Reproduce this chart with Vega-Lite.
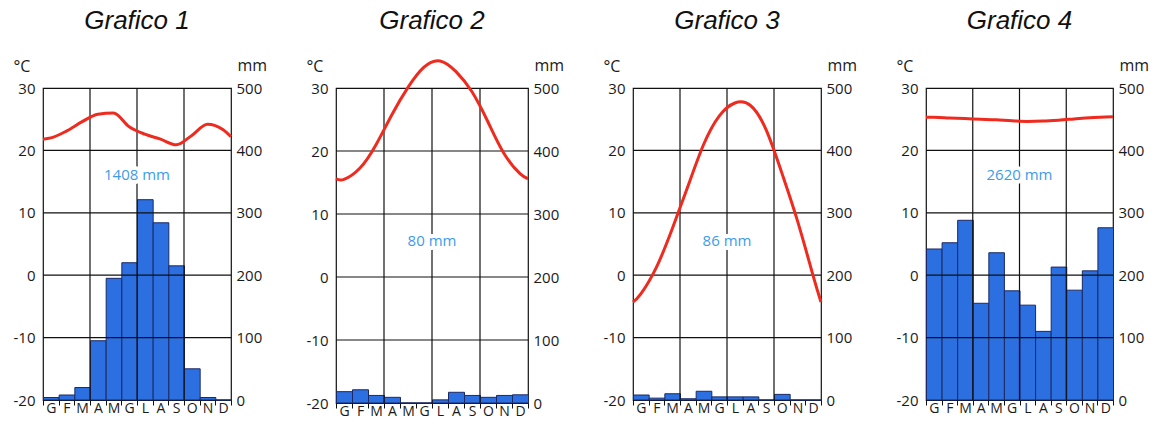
{
  "$schema": "https://vega.github.io/schema/vega-lite/v6.json",
  "background": "white",
  "padding": {"left": 12, "top": 7, "right": 5, "bottom": 0},
  "bounds": "flush",
  "spacing": 105,
  "config": {
    "view": {"stroke": "#111", "strokeWidth": 1.2},
    "axis": {"labelFont": "Open Sans", "labelFontSize": 15, "labelColor": "#1a1a1a", "titleFont": "Open Sans", "titleFontSize": 16, "titleFontWeight": "normal", "titleColor": "#1a1a1a", "labelFlush": false, "labelOverlap": false},
    "title": {"font": "Liberation Sans", "fontSize": 26, "fontStyle": "italic", "fontWeight": "normal", "color": "#111", "frame": "group", "anchor": "middle", "offset": 23, "baseline": "alphabetic"}
  },
  "datasets": {
    "prec": [
      {"grafico": 1, "mese": 0, "mm": 4}, {"grafico": 1, "mese": 1, "mm": 8}, {"grafico": 1, "mese": 2, "mm": 20}, {"grafico": 1, "mese": 3, "mm": 95}, {"grafico": 1, "mese": 4, "mm": 195}, {"grafico": 1, "mese": 5, "mm": 220}, {"grafico": 1, "mese": 6, "mm": 321}, {"grafico": 1, "mese": 7, "mm": 284}, {"grafico": 1, "mese": 8, "mm": 215}, {"grafico": 1, "mese": 9, "mm": 50}, {"grafico": 1, "mese": 10, "mm": 4}, {"grafico": 1, "mese": 11, "mm": 0},
      {"grafico": 2, "mese": 0, "mm": 18}, {"grafico": 2, "mese": 1, "mm": 21}, {"grafico": 2, "mese": 2, "mm": 12}, {"grafico": 2, "mese": 3, "mm": 9}, {"grafico": 2, "mese": 4, "mm": 0}, {"grafico": 2, "mese": 5, "mm": 0}, {"grafico": 2, "mese": 6, "mm": 5}, {"grafico": 2, "mese": 7, "mm": 17}, {"grafico": 2, "mese": 8, "mm": 12}, {"grafico": 2, "mese": 9, "mm": 9}, {"grafico": 2, "mese": 10, "mm": 12}, {"grafico": 2, "mese": 11, "mm": 13},
      {"grafico": 3, "mese": 0, "mm": 8}, {"grafico": 3, "mese": 1, "mm": 3}, {"grafico": 3, "mese": 2, "mm": 10}, {"grafico": 3, "mese": 3, "mm": 2}, {"grafico": 3, "mese": 4, "mm": 14}, {"grafico": 3, "mese": 5, "mm": 5}, {"grafico": 3, "mese": 6, "mm": 5}, {"grafico": 3, "mese": 7, "mm": 5}, {"grafico": 3, "mese": 8, "mm": 0}, {"grafico": 3, "mese": 9, "mm": 9}, {"grafico": 3, "mese": 10, "mm": 0}, {"grafico": 3, "mese": 11, "mm": 0},
      {"grafico": 4, "mese": 0, "mm": 242}, {"grafico": 4, "mese": 1, "mm": 252}, {"grafico": 4, "mese": 2, "mm": 288}, {"grafico": 4, "mese": 3, "mm": 155}, {"grafico": 4, "mese": 4, "mm": 236}, {"grafico": 4, "mese": 5, "mm": 175}, {"grafico": 4, "mese": 6, "mm": 152}, {"grafico": 4, "mese": 7, "mm": 110}, {"grafico": 4, "mese": 8, "mm": 213}, {"grafico": 4, "mese": 9, "mm": 176}, {"grafico": 4, "mese": 10, "mm": 207}, {"grafico": 4, "mese": 11, "mm": 276}
    ],
    "temp": [
      {"grafico": 1, "pos": 0, "c": 21.8}, {"grafico": 1, "pos": 0.5, "c": 22.0}, {"grafico": 1, "pos": 1.5, "c": 23.1}, {"grafico": 1, "pos": 2.5, "c": 24.6}, {"grafico": 1, "pos": 3.5, "c": 25.8}, {"grafico": 1, "pos": 4.5, "c": 26.0}, {"grafico": 1, "pos": 5.5, "c": 23.8}, {"grafico": 1, "pos": 6.5, "c": 22.6}, {"grafico": 1, "pos": 7.5, "c": 21.8}, {"grafico": 1, "pos": 8.5, "c": 20.9}, {"grafico": 1, "pos": 9.5, "c": 22.4}, {"grafico": 1, "pos": 10.5, "c": 24.2}, {"grafico": 1, "pos": 11.5, "c": 23.3}, {"grafico": 1, "pos": 12, "c": 22.2},
      {"grafico": 2, "pos": 0, "c": 15.6}, {"grafico": 2, "pos": 0.5, "c": 15.5}, {"grafico": 2, "pos": 1.5, "c": 17.3}, {"grafico": 2, "pos": 2.5, "c": 21.0}, {"grafico": 2, "pos": 3.5, "c": 25.8}, {"grafico": 2, "pos": 4.5, "c": 30.1}, {"grafico": 2, "pos": 5.5, "c": 33.3}, {"grafico": 2, "pos": 6.5, "c": 34.3}, {"grafico": 2, "pos": 7.5, "c": 32.6}, {"grafico": 2, "pos": 8.5, "c": 29.4}, {"grafico": 2, "pos": 9.5, "c": 24.6}, {"grafico": 2, "pos": 10.5, "c": 19.6}, {"grafico": 2, "pos": 11.5, "c": 16.4}, {"grafico": 2, "pos": 12, "c": 15.6},
      {"grafico": 3, "pos": 0, "c": -4.3}, {"grafico": 3, "pos": 0.5, "c": -3.0}, {"grafico": 3, "pos": 1.5, "c": 1.3}, {"grafico": 3, "pos": 2.5, "c": 7.4}, {"grafico": 3, "pos": 3.5, "c": 14.2}, {"grafico": 3, "pos": 4.5, "c": 20.9}, {"grafico": 3, "pos": 5.5, "c": 25.5}, {"grafico": 3, "pos": 6.5, "c": 27.6}, {"grafico": 3, "pos": 7.5, "c": 27.2}, {"grafico": 3, "pos": 8.5, "c": 23.3}, {"grafico": 3, "pos": 9.5, "c": 16.4}, {"grafico": 3, "pos": 10.5, "c": 8.7}, {"grafico": 3, "pos": 11.5, "c": -0.1}, {"grafico": 3, "pos": 12, "c": -4.3},
      {"grafico": 4, "pos": 0, "c": 25.3}, {"grafico": 4, "pos": 0.5, "c": 25.3}, {"grafico": 4, "pos": 1.5, "c": 25.2}, {"grafico": 4, "pos": 2.5, "c": 25.1}, {"grafico": 4, "pos": 3.5, "c": 25.0}, {"grafico": 4, "pos": 4.5, "c": 24.9}, {"grafico": 4, "pos": 5.5, "c": 24.75}, {"grafico": 4, "pos": 6.5, "c": 24.65}, {"grafico": 4, "pos": 7.5, "c": 24.7}, {"grafico": 4, "pos": 8.5, "c": 24.85}, {"grafico": 4, "pos": 9.5, "c": 25.05}, {"grafico": 4, "pos": 10.5, "c": 25.25}, {"grafico": 4, "pos": 11.5, "c": 25.35}, {"grafico": 4, "pos": 12, "c": 25.4}
    ],
    "tot": [
      {"grafico": 1, "totale": "1408 mm", "quota": 16},
      {"grafico": 2, "totale": "80 mm", "quota": 5.7},
      {"grafico": 3, "totale": "86 mm", "quota": 5.5},
      {"grafico": 4, "totale": "2620 mm", "quota": 16}
    ]
  },
  "hconcat": [
    {
      "width": 188, "height": 312,
      "title": {"text": "Grafico 1"},
      "data": {"name": "tot"},
      "transform": [{"filter": "datum.grafico == 1"}],
      "resolve": {"scale": {"y": "independent"}, "axis": {"y": "independent"}},
      "layer": [
        {
          "data": {"name": "prec"},
          "transform": [{"filter": "datum.grafico == 1"}],
          "mark": {"type": "bar", "fill": "#2b6fe0", "stroke": "#1b2a66", "strokeWidth": 1, "binSpacing": 0},
          "encoding": {
            "x": {"field": "mese", "type": "quantitative", "bin": {"binned": true, "step": 1}, "scale": {"domain": [0, 12], "nice": false, "zero": false},
              "axis": {"values": [0,1,2,3,4,5,6,7,8,9,10,11,12], "labelExpr": "datum.value < 12 ? ['G','F','M','A','M','G','L','A','S','O','N','D'][datum.value] : ''", "labelOffset": 7.8, "labelAlign": "center", "labelFontSize": 14, "labelPadding": -4, "ticks": true, "tickSize": 5, "tickColor": "#111", "tickWidth": 1, "domain": false, "grid": false, "title": null}},
            "y": {"field": "mm", "type": "quantitative", "scale": {"domain": [0, 500], "nice": false},
              "axis": {"orient": "right", "values": [0,100,200,300,400,500], "grid": false, "ticks": false, "domain": false, "labelPadding": 5, "title": "mm", "titleAngle": 0, "titleAlign": "left", "titleBaseline": "alphabetic", "titleX": 6, "titleY": -18}}
          }
        },
        {
          "layer": [
            {"mark": {"type": "rule", "color": "#111", "strokeWidth": 1.2}, "encoding": {"y": {"datum": -10, "type": "quantitative", "scale": {"domain": [-20, 30], "nice": false}}}},
            {"mark": {"type": "rule", "color": "#111", "strokeWidth": 1.2}, "encoding": {"y": {"datum": 0, "type": "quantitative"}}},
            {"mark": {"type": "rule", "color": "#111", "strokeWidth": 1.2}, "encoding": {"y": {"datum": 10, "type": "quantitative"}}},
            {"mark": {"type": "rule", "color": "#111", "strokeWidth": 1.2}, "encoding": {"y": {"datum": 20, "type": "quantitative"}}},
            {"mark": {"type": "rule", "color": "#111", "strokeWidth": 1.2}, "encoding": {"x": {"datum": 3, "type": "quantitative"}}},
            {"mark": {"type": "rule", "color": "#111", "strokeWidth": 1.2}, "encoding": {"x": {"datum": 6, "type": "quantitative"}}},
            {"mark": {"type": "rule", "color": "#111", "strokeWidth": 1.2}, "encoding": {"x": {"datum": 9, "type": "quantitative"}}},
            {
              "data": {"name": "temp"},
              "transform": [{"filter": "datum.grafico == 1"}],
              "mark": {"type": "line", "color": "#ee2b1e", "strokeWidth": 3, "interpolate": "monotone"},
              "encoding": {
                "x": {"field": "pos", "type": "quantitative", "scale": {"domain": [0, 12], "nice": false, "zero": false}},
                "y": {"field": "c", "type": "quantitative", "scale": {"domain": [-20, 30], "nice": false},
                  "axis": {"orient": "left", "values": [-20,-10,0,10,20,30], "labelExpr": "'' + datum.value", "grid": false, "ticks": false, "domain": false, "labelPadding": 8, "title": "°C", "titleAngle": 0, "titleAlign": "left", "titleBaseline": "alphabetic", "titleX": -30, "titleY": -17}}
              }
            },
            {"mark": {"type": "text", "font": "Open Sans", "fontSize": 15, "align": "center", "baseline": "middle", "fill": "white", "stroke": "white", "strokeWidth": 8, "strokeJoin": "round"}, "encoding": {"x": {"datum": 6, "type": "quantitative"}, "y": {"field": "quota", "type": "quantitative"}, "text": {"field": "totale"}}},
            {"mark": {"type": "text", "font": "Open Sans", "fontSize": 15, "align": "center", "baseline": "middle", "fill": "#3d9be9"}, "encoding": {"x": {"datum": 6, "type": "quantitative"}, "y": {"field": "quota", "type": "quantitative"}, "text": {"field": "totale"}}}
          ]
        }
      ]
    },
    {
      "width": 192, "height": 315,
      "title": {"text": "Grafico 2", "offset": 21},
      "data": {"name": "tot"},
      "transform": [{"filter": "datum.grafico == 2"}],
      "resolve": {"scale": {"y": "independent"}, "axis": {"y": "independent"}},
      "layer": [
        {
          "data": {"name": "prec"},
          "transform": [{"filter": "datum.grafico == 2"}],
          "mark": {"type": "bar", "fill": "#2b6fe0", "stroke": "#1b2a66", "strokeWidth": 1, "binSpacing": 0},
          "encoding": {
            "x": {"field": "mese", "type": "quantitative", "bin": {"binned": true, "step": 1}, "scale": {"domain": [0, 12], "nice": false, "zero": false},
              "axis": {"values": [0,1,2,3,4,5,6,7,8,9,10,11,12], "labelExpr": "datum.value < 12 ? ['G','F','M','A','M','G','L','A','S','O','N','D'][datum.value] : ''", "labelOffset": 8, "labelAlign": "center", "labelFontSize": 14, "labelPadding": -4, "ticks": true, "tickSize": 5, "tickColor": "#111", "tickWidth": 1, "domain": false, "grid": false, "title": null}},
            "y": {"field": "mm", "type": "quantitative", "scale": {"domain": [0, 500], "nice": false},
              "axis": {"orient": "right", "values": [0,100,200,300,400,500], "grid": false, "ticks": false, "domain": false, "labelPadding": 5, "title": "mm", "titleAngle": 0, "titleAlign": "left", "titleBaseline": "alphabetic", "titleX": 6, "titleY": -18}}
          }
        },
        {
          "layer": [
            {"mark": {"type": "rule", "color": "#111", "strokeWidth": 1.2}, "encoding": {"y": {"datum": -10, "type": "quantitative", "scale": {"domain": [-20, 30], "nice": false}}}},
            {"mark": {"type": "rule", "color": "#111", "strokeWidth": 1.2}, "encoding": {"y": {"datum": 0, "type": "quantitative"}}},
            {"mark": {"type": "rule", "color": "#111", "strokeWidth": 1.2}, "encoding": {"y": {"datum": 10, "type": "quantitative"}}},
            {"mark": {"type": "rule", "color": "#111", "strokeWidth": 1.2}, "encoding": {"y": {"datum": 20, "type": "quantitative"}}},
            {"mark": {"type": "rule", "color": "#111", "strokeWidth": 1.2}, "encoding": {"x": {"datum": 3, "type": "quantitative"}}},
            {"mark": {"type": "rule", "color": "#111", "strokeWidth": 1.2}, "encoding": {"x": {"datum": 6, "type": "quantitative"}}},
            {"mark": {"type": "rule", "color": "#111", "strokeWidth": 1.2}, "encoding": {"x": {"datum": 9, "type": "quantitative"}}},
            {
              "data": {"name": "temp"},
              "transform": [{"filter": "datum.grafico == 2"}],
              "mark": {"type": "line", "color": "#ee2b1e", "strokeWidth": 3, "interpolate": "natural"},
              "encoding": {
                "x": {"field": "pos", "type": "quantitative", "scale": {"domain": [0, 12], "nice": false, "zero": false}},
                "y": {"field": "c", "type": "quantitative", "scale": {"domain": [-20, 30], "nice": false},
                  "axis": {"orient": "left", "values": [-20,-10,0,10,20,30], "labelExpr": "'' + datum.value", "grid": false, "ticks": false, "domain": false, "labelPadding": 8, "title": "°C", "titleAngle": 0, "titleAlign": "left", "titleBaseline": "alphabetic", "titleX": -30, "titleY": -17}}
              }
            },
            {"mark": {"type": "text", "font": "Open Sans", "fontSize": 15, "align": "center", "baseline": "middle", "fill": "white", "stroke": "white", "strokeWidth": 8, "strokeJoin": "round"}, "encoding": {"x": {"datum": 6, "type": "quantitative"}, "y": {"field": "quota", "type": "quantitative"}, "text": {"field": "totale"}}},
            {"mark": {"type": "text", "font": "Open Sans", "fontSize": 15, "align": "center", "baseline": "middle", "fill": "#3d9be9"}, "encoding": {"x": {"datum": 6, "type": "quantitative"}, "y": {"field": "quota", "type": "quantitative"}, "text": {"field": "totale"}}}
          ]
        }
      ]
    },
    {
      "width": 188, "height": 312,
      "title": {"text": "Grafico 3"},
      "data": {"name": "tot"},
      "transform": [{"filter": "datum.grafico == 3"}],
      "resolve": {"scale": {"y": "independent"}, "axis": {"y": "independent"}},
      "layer": [
        {
          "data": {"name": "prec"},
          "transform": [{"filter": "datum.grafico == 3"}],
          "mark": {"type": "bar", "fill": "#2b6fe0", "stroke": "#1b2a66", "strokeWidth": 1, "binSpacing": 0},
          "encoding": {
            "x": {"field": "mese", "type": "quantitative", "bin": {"binned": true, "step": 1}, "scale": {"domain": [0, 12], "nice": false, "zero": false},
              "axis": {"values": [0,1,2,3,4,5,6,7,8,9,10,11,12], "labelExpr": "datum.value < 12 ? ['G','F','M','A','M','G','L','A','S','O','N','D'][datum.value] : ''", "labelOffset": 7.8, "labelAlign": "center", "labelFontSize": 14, "labelPadding": -4, "ticks": true, "tickSize": 5, "tickColor": "#111", "tickWidth": 1, "domain": false, "grid": false, "title": null}},
            "y": {"field": "mm", "type": "quantitative", "scale": {"domain": [0, 500], "nice": false},
              "axis": {"orient": "right", "values": [0,100,200,300,400,500], "grid": false, "ticks": false, "domain": false, "labelPadding": 5, "title": "mm", "titleAngle": 0, "titleAlign": "left", "titleBaseline": "alphabetic", "titleX": 6, "titleY": -18}}
          }
        },
        {
          "layer": [
            {"mark": {"type": "rule", "color": "#111", "strokeWidth": 1.2}, "encoding": {"y": {"datum": -10, "type": "quantitative", "scale": {"domain": [-20, 30], "nice": false}}}},
            {"mark": {"type": "rule", "color": "#111", "strokeWidth": 1.2}, "encoding": {"y": {"datum": 0, "type": "quantitative"}}},
            {"mark": {"type": "rule", "color": "#111", "strokeWidth": 1.2}, "encoding": {"y": {"datum": 10, "type": "quantitative"}}},
            {"mark": {"type": "rule", "color": "#111", "strokeWidth": 1.2}, "encoding": {"y": {"datum": 20, "type": "quantitative"}}},
            {"mark": {"type": "rule", "color": "#111", "strokeWidth": 1.2}, "encoding": {"x": {"datum": 3, "type": "quantitative"}}},
            {"mark": {"type": "rule", "color": "#111", "strokeWidth": 1.2}, "encoding": {"x": {"datum": 6, "type": "quantitative"}}},
            {"mark": {"type": "rule", "color": "#111", "strokeWidth": 1.2}, "encoding": {"x": {"datum": 9, "type": "quantitative"}}},
            {
              "data": {"name": "temp"},
              "transform": [{"filter": "datum.grafico == 3"}],
              "mark": {"type": "line", "color": "#ee2b1e", "strokeWidth": 3, "interpolate": "natural"},
              "encoding": {
                "x": {"field": "pos", "type": "quantitative", "scale": {"domain": [0, 12], "nice": false, "zero": false}},
                "y": {"field": "c", "type": "quantitative", "scale": {"domain": [-20, 30], "nice": false},
                  "axis": {"orient": "left", "values": [-20,-10,0,10,20,30], "labelExpr": "'' + datum.value", "grid": false, "ticks": false, "domain": false, "labelPadding": 8, "title": "°C", "titleAngle": 0, "titleAlign": "left", "titleBaseline": "alphabetic", "titleX": -30, "titleY": -17}}
              }
            },
            {"mark": {"type": "text", "font": "Open Sans", "fontSize": 15, "align": "center", "baseline": "middle", "fill": "white", "stroke": "white", "strokeWidth": 8, "strokeJoin": "round"}, "encoding": {"x": {"datum": 6, "type": "quantitative"}, "y": {"field": "quota", "type": "quantitative"}, "text": {"field": "totale"}}},
            {"mark": {"type": "text", "font": "Open Sans", "fontSize": 15, "align": "center", "baseline": "middle", "fill": "#3d9be9"}, "encoding": {"x": {"datum": 6, "type": "quantitative"}, "y": {"field": "quota", "type": "quantitative"}, "text": {"field": "totale"}}}
          ]
        }
      ]
    },
    {
      "width": 187, "height": 312,
      "title": {"text": "Grafico 4"},
      "data": {"name": "tot"},
      "transform": [{"filter": "datum.grafico == 4"}],
      "resolve": {"scale": {"y": "independent"}, "axis": {"y": "independent"}},
      "layer": [
        {
          "data": {"name": "prec"},
          "transform": [{"filter": "datum.grafico == 4"}],
          "mark": {"type": "bar", "fill": "#2b6fe0", "stroke": "#1b2a66", "strokeWidth": 1, "binSpacing": 0},
          "encoding": {
            "x": {"field": "mese", "type": "quantitative", "bin": {"binned": true, "step": 1}, "scale": {"domain": [0, 12], "nice": false, "zero": false},
              "axis": {"values": [0,1,2,3,4,5,6,7,8,9,10,11,12], "labelExpr": "datum.value < 12 ? ['G','F','M','A','M','G','L','A','S','O','N','D'][datum.value] : ''", "labelOffset": 7.8, "labelAlign": "center", "labelFontSize": 14, "labelPadding": -4, "ticks": true, "tickSize": 5, "tickColor": "#111", "tickWidth": 1, "domain": false, "grid": false, "title": null}},
            "y": {"field": "mm", "type": "quantitative", "scale": {"domain": [0, 500], "nice": false},
              "axis": {"orient": "right", "values": [0,100,200,300,400,500], "grid": false, "ticks": false, "domain": false, "labelPadding": 5, "title": "mm", "titleAngle": 0, "titleAlign": "left", "titleBaseline": "alphabetic", "titleX": 6, "titleY": -18}}
          }
        },
        {
          "layer": [
            {"mark": {"type": "rule", "color": "#111", "strokeWidth": 1.2}, "encoding": {"y": {"datum": -10, "type": "quantitative", "scale": {"domain": [-20, 30], "nice": false}}}},
            {"mark": {"type": "rule", "color": "#111", "strokeWidth": 1.2}, "encoding": {"y": {"datum": 0, "type": "quantitative"}}},
            {"mark": {"type": "rule", "color": "#111", "strokeWidth": 1.2}, "encoding": {"y": {"datum": 10, "type": "quantitative"}}},
            {"mark": {"type": "rule", "color": "#111", "strokeWidth": 1.2}, "encoding": {"y": {"datum": 20, "type": "quantitative"}}},
            {"mark": {"type": "rule", "color": "#111", "strokeWidth": 1.2}, "encoding": {"x": {"datum": 3, "type": "quantitative"}}},
            {"mark": {"type": "rule", "color": "#111", "strokeWidth": 1.2}, "encoding": {"x": {"datum": 6, "type": "quantitative"}}},
            {"mark": {"type": "rule", "color": "#111", "strokeWidth": 1.2}, "encoding": {"x": {"datum": 9, "type": "quantitative"}}},
            {
              "data": {"name": "temp"},
              "transform": [{"filter": "datum.grafico == 4"}],
              "mark": {"type": "line", "color": "#ee2b1e", "strokeWidth": 3, "interpolate": "monotone"},
              "encoding": {
                "x": {"field": "pos", "type": "quantitative", "scale": {"domain": [0, 12], "nice": false, "zero": false}},
                "y": {"field": "c", "type": "quantitative", "scale": {"domain": [-20, 30], "nice": false},
                  "axis": {"orient": "left", "values": [-20,-10,0,10,20,30], "labelExpr": "'' + datum.value", "grid": false, "ticks": false, "domain": false, "labelPadding": 8, "title": "°C", "titleAngle": 0, "titleAlign": "left", "titleBaseline": "alphabetic", "titleX": -30, "titleY": -17}}
              }
            },
            {"mark": {"type": "text", "font": "Open Sans", "fontSize": 15, "align": "center", "baseline": "middle", "fill": "white", "stroke": "white", "strokeWidth": 8, "strokeJoin": "round"}, "encoding": {"x": {"datum": 6, "type": "quantitative"}, "y": {"field": "quota", "type": "quantitative"}, "text": {"field": "totale"}}},
            {"mark": {"type": "text", "font": "Open Sans", "fontSize": 15, "align": "center", "baseline": "middle", "fill": "#3d9be9"}, "encoding": {"x": {"datum": 6, "type": "quantitative"}, "y": {"field": "quota", "type": "quantitative"}, "text": {"field": "totale"}}}
          ]
        }
      ]
    }
  ]
}
